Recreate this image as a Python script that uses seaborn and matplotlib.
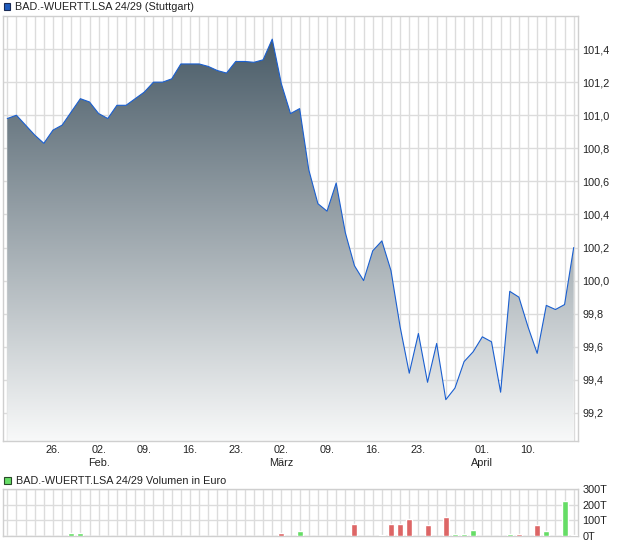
import numpy as np
import pandas as pd
import matplotlib
matplotlib.use('Agg')
import matplotlib.pyplot as plt
import seaborn as sns
from matplotlib.colors import LinearSegmentedColormap
from matplotlib.patches import Rectangle

# Kursdaten (Handelstage 19.01. - 17.04.)
price = [100.98, 101.00, 100.94, 100.88, 100.83, 100.91, 100.94, 101.02, 101.10, 101.08,
         101.01, 100.98, 101.06, 101.06, 101.10, 101.14, 101.20, 101.20, 101.22, 101.31,
         101.31, 101.31, 101.295, 101.27, 101.255, 101.325, 101.325, 101.32, 101.335, 101.46,
         101.19, 101.01, 101.04, 100.67, 100.465, 100.42, 100.59, 100.29, 100.09, 100.00,
         100.18, 100.24, 100.06, 99.72, 99.44, 99.68, 99.385, 99.62, 99.28, 99.35,
         99.51, 99.57, 99.66, 99.63, 99.325, 99.935, 99.90, 99.72, 99.56, 99.85,
         99.825, 99.855, 100.20]

# Volumen in Tausend Euro (0 = kein Umsatz)
volume = [0, 0, 0, 0, 0, 0, 0, 17, 17, 0,
          0, 0, 0, 0, 0, 0, 0, 0, 0, 0,
          0, 0, 0, 0, 0, 0, 0, 0, 0, 0,
          17, 0, 30, 0, 0, 0, 0, 0, 77, 0,
          0, 4, 77, 77, 109, 0, 71, 0, 122, 13,
          13, 39, 0, 0, 0, 13, 13, 0, 71, 32,
          0, 227, 4]

tick_pos = [5, 10, 15, 20, 25, 30, 35, 40, 45, 52, 57]
tick_labels = ['26.', '02.\nFeb.', '09.', '16.', '23.', '02.\nMärz', '09.', '16.', '23.', '01.\nApril', '10.']
price_ticks = [99.2, 99.4, 99.6, 99.8, 100.0, 100.2, 100.4, 100.6, 100.8, 101.0, 101.2, 101.4]
vol_ticks = [0, 100, 200, 300]

days = np.arange(len(price))
df = pd.DataFrame({'tag': days, 'kurs': price, 'volumen': volume})
df['richtung'] = np.where(df['kurs'].diff().fillna(0) >= 0, 'up', 'down')

sns.set_theme(style='white')
plt.rcParams['font.family'] = ['Liberation Sans', 'DejaVu Sans']

grid_c = '#dcdcdc'
txt_c = '#222222'
fs = 7.8
xmin, xmax = -0.47, 62.47
ymin, ymax = 99.03, 101.6

fig = plt.figure(figsize=(6.2, 5.46), dpi=100)
ax = fig.add_axes([3 / 620, 1 - 441 / 546, 575 / 620, 425 / 546])
axv = fig.add_axes([3 / 620, 1 - 536 / 546, 575 / 620, 46.7 / 546])

# gradient fill under the price line
fill = ax.fill_between(df['tag'], df['kurs'], ymin - 1, color='none', lw=0)
cmap = LinearSegmentedColormap.from_list('grad', ['#4a5c68', '#f8f9f9'])
grad = np.linspace(0, 1, 256).reshape(-1, 1)
img = ax.imshow(grad, extent=[xmin, xmax, ymin, max(price)], aspect='auto',
                cmap=cmap, origin='upper', zorder=1)
img.set_clip_path(fill.get_paths()[0], ax.transData)
sns.lineplot(data=df, x='tag', y='kurs', ax=ax, color='#1a5fd0', lw=0.8, zorder=3)

ax.set_xlim(xmin, xmax)
ax.set_ylim(ymin, ymax)
ax.set_xlabel('')
ax.set_ylabel('')
ax.set_xticks(tick_pos)
ax.set_xticklabels(tick_labels, fontsize=fs, color=txt_c, linespacing=1.3)
ax.set_xticks(days, minor=True)
ax.set_yticks(price_ticks)
ax.set_yticklabels([f'{t:.1f}'.replace('.', ',') for t in price_ticks], fontsize=fs, color=txt_c)
ax.yaxis.tick_right()
ax.tick_params(axis='y', length=0, pad=3)
ax.tick_params(axis='x', which='major', length=2, color='#999999', pad=1)
ax.tick_params(axis='x', which='minor', length=2, color='#aaaaaa')
ax.grid(True, which='both', axis='x', color=grid_c, lw=1.0, zorder=0)
ax.grid(True, which='major', axis='y', color=grid_c, lw=1.0, zorder=0)
ax.set_axisbelow(True)
for s in ax.spines.values():
    s.set_color('#cfcfcf')
    s.set_linewidth(1.0)

# volume chart
sns.barplot(data=df, x='tag', y='volumen', hue='richtung', ax=axv, native_scale=True,
            palette={'up': '#66dd66', 'down': '#dd6666'}, dodge=False, legend=False,
            width=0.65, saturation=1, zorder=3)
axv.set_xlim(xmin, xmax)
axv.set_ylim(0, 300)
axv.set_xlabel('')
axv.set_ylabel('')
axv.set_xticks(days)
axv.set_xticklabels([])
axv.tick_params(axis='x', length=0)
axv.set_yticks(vol_ticks)
axv.set_yticklabels([f'{v}T' for v in vol_ticks], fontsize=fs, color=txt_c)
axv.yaxis.tick_right()
axv.tick_params(axis='y', length=0, pad=3)
axv.grid(True, color=grid_c, lw=1.0, zorder=0)
axv.set_axisbelow(True)
for s in axv.spines.values():
    s.set_color('#cfcfcf')
    s.set_linewidth(1.0)

# legend boxes
fig.add_artist(Rectangle((3.5 / 620, 1 - 10 / 546), 7 / 620, 7 / 546, transform=fig.transFigure,
                         facecolor='#1f5bbd', edgecolor='#1a2a55', lw=0.8))
fig.text(15 / 620, 1 - 6.7 / 546, 'BAD.-WUERTT.LSA 24/29 (Stuttgart)', fontsize=fs,
         color=txt_c, va='center', ha='left')
fig.add_artist(Rectangle((4 / 620, 1 - 484 / 546), 7 / 620, 7 / 546, transform=fig.transFigure,
                         facecolor='#66dd66', edgecolor='#2a4a2a', lw=0.8))
fig.text(15.5 / 620, 1 - 480.7 / 546, 'BAD.-WUERTT.LSA 24/29 Volumen in Euro', fontsize=fs,
         color=txt_c, va='center', ha='left')

fig.savefig('out.png', dpi=100)
